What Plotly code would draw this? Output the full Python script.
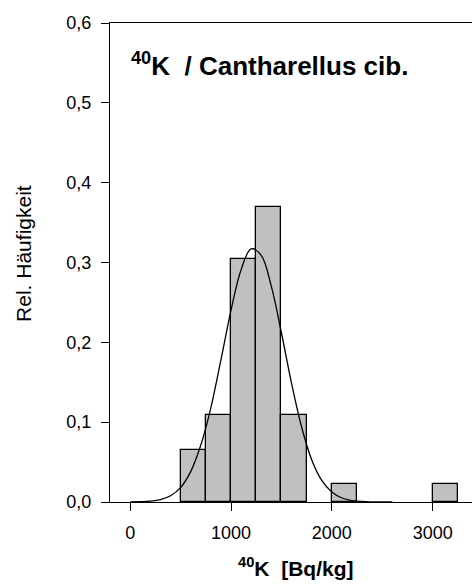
import plotly.graph_objects as go

# Histogram data (bin centres in Bq/kg, relative frequency)
bin_centers = [625, 875, 1125, 1375, 1625, 2125, 3125]
rel_freq = [0.065, 0.109, 0.304, 0.370, 0.109, 0.022, 0.022]
bin_width = 250

# Fitted normal curve
curve_x = [0, 100, 200, 300, 400, 500, 600, 700, 800, 900, 1000, 1100, 1200,
           1300, 1400, 1500, 1600, 1700, 1800, 1900, 2000, 2100, 2200, 2300,
           2400, 2500, 2600]
curve_y = [0.0001, 0.0003, 0.0010, 0.0029, 0.0078, 0.0180, 0.0380, 0.0710,
           0.1180, 0.1780, 0.2400, 0.2910, 0.3170, 0.3090, 0.2700, 0.2120,
           0.1490, 0.0940, 0.0530, 0.0270, 0.0125, 0.0050, 0.0018, 0.0006,
           0.0002, 0.0001, 0.0]

x_ticks = [0, 1000, 2000, 3000]
y_ticks = [0.0, 0.1, 0.2, 0.3, 0.4, 0.5, 0.6]
y_tick_text = ["0,0", "0,1", "0,2", "0,3", "0,4", "0,5", "0,6"]

FONT = "Liberation Sans, Arial, sans-serif"

fig = go.Figure()
fig.add_trace(go.Bar(
    x=bin_centers, y=rel_freq, width=bin_width,
    marker=dict(color="#c0c0c0", line=dict(color="black", width=1.3)),
    showlegend=False, hoverinfo="skip",
))
fig.add_trace(go.Scatter(
    x=curve_x, y=curve_y, mode="lines",
    line=dict(color="black", width=1.3, shape="spline"),
    showlegend=False, hoverinfo="skip",
))

fig.update_layout(
    width=472, height=586,
    margin=dict(l=110, r=0, t=23, b=84),
    paper_bgcolor="white", plot_bgcolor="white",
    font=dict(family=FONT, color="black", size=18),
    bargap=0,
    xaxis=dict(
        range=[-200, 3390], tickvals=x_ticks, ticktext=[str(v) for v in x_ticks],
        showgrid=False, zeroline=False, showline=True, linecolor="black",
        linewidth=1.3, mirror=True, ticks="outside", ticklen=8, tickwidth=1.3,
        tickcolor="black", ticklabelstandoff=6,
        tickfont=dict(family=FONT, size=18),
    ),
    yaxis=dict(
        range=[0, 0.6], tickvals=y_ticks, ticktext=y_tick_text,
        showgrid=False, zeroline=False, showline=True, linecolor="black",
        linewidth=1.3, mirror=False, ticks="outside", ticklen=8, tickwidth=1.3,
        tickcolor="black", ticklabelstandoff=6,
        tickfont=dict(family=FONT, size=18),
    ),
    annotations=[
        dict(text="<b><sup>40</sup>K  / Cantharellus cib.</b>",
             xref="paper", yref="paper", x=0.052, y=0.913,
             xanchor="left", yanchor="middle", showarrow=False,
             font=dict(family=FONT, size=26, color="black")),
        dict(text="<b><sup>40</sup>K  [Bq/kg]</b>",
             xref="paper", yref="paper", x=0.514, y=-0.135,
             xanchor="center", yanchor="middle", showarrow=False,
             font=dict(family=FONT, size=21, color="black")),
        dict(text="Rel. Häufigkeit", textangle=-90,
             xref="paper", yref="paper", x=-0.2376, y=0.52,
             xanchor="center", yanchor="middle", showarrow=False,
             font=dict(family=FONT, size=21, color="black")),
    ],
)

fig.write_html("out.html")
